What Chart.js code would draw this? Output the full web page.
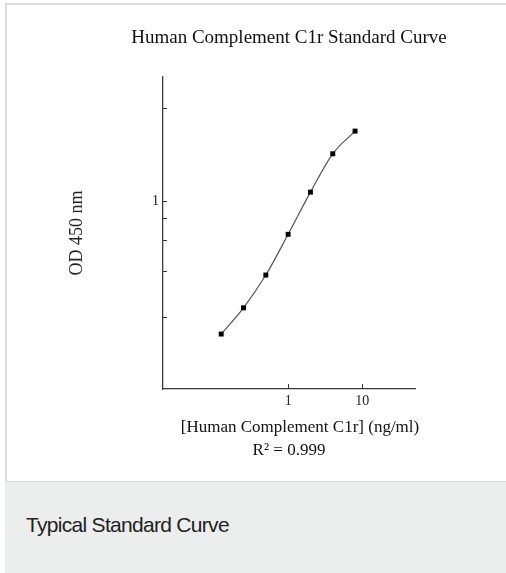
<!DOCTYPE html>
<html>
<head>
<meta charset="utf-8">
<script src="https://cdn.jsdelivr.net/npm/chart.js"></script>
<style>
  html, body { margin: 0; padding: 0; background: #fff; width: 506px; height: 573px; overflow: hidden; }
  #frame { position: absolute; left: 5px; top: 3px; width: 501px; height: 478px; box-sizing: border-box;
           border-left: 2px solid #dcdcdc; border-top: 2px solid #dcdcdc; }
  #chart { position: absolute; left: 0; top: 0; }
  #caption { position: absolute; left: 5px; top: 481px; width: 501px; height: 92px; background: #eceeed;
             border-top: 1px solid #dcdcdc; box-sizing: border-box;
             font-family: "Liberation Sans", Arial, sans-serif; font-size: 21px; letter-spacing: -0.7px;
             color: #222; padding-left: 21px; line-height: 86px; }
</style>
</head>
<body>
<div id="frame"></div>
<canvas id="chart" width="506" height="481"></canvas>
<div id="caption">Typical Standard Curve</div>
<script>
// ---- data ----
const concentrations = [0.125, 0.25, 0.5, 1, 2, 4, 8];             // ng/ml
const odValues       = [0.175, 0.247, 0.38, 0.649, 1.13, 1.87, 2.52]; // OD 450 nm
const xTickValues = [1, 10];
const xTickLabels = ['1', '10'];
const yTickValues = [0.22, 0.4, 0.6, 0.8, 1, 3.4];
const yTickLabels = ['', '', '', '', '1', ''];
const chartTitle = 'Human Complement C1r Standard Curve';
const xTitle = '[Human Complement C1r] (ng/ml)';
const fitNote = 'R\u00B2 = 0.999';
const yTitle = 'OD 450 nm';

const serif = '"Liberation Serif", "Times New Roman", serif';

// inward tick marks + chart title + x-axis caption lines
const decorations = {
  id: 'decorations',
  afterDraw(chart) {
    const {ctx, chartArea, scales} = chart;
    ctx.save();
    ctx.strokeStyle = '#333';
    ctx.lineWidth = 1;
    ctx.beginPath();
    yTickValues.forEach(v => {
      const y = Math.round(scales.y.getPixelForValue(v)) + 0.5;
      ctx.moveTo(chartArea.left, y);
      ctx.lineTo(chartArea.left + 4, y);
    });
    xTickValues.forEach(v => {
      const x = Math.round(scales.x.getPixelForValue(v)) + 0.5;
      ctx.moveTo(x, chartArea.bottom);
      ctx.lineTo(x, chartArea.bottom - 5);
    });
    ctx.stroke();

    const cx = (chartArea.left + chartArea.right) / 2;
    ctx.fillStyle = '#111';
    ctx.textAlign = 'center';
    ctx.textBaseline = 'middle';
    ctx.font = '19px ' + serif;
    ctx.fillText(chartTitle, cx, chartArea.top - 39);
    ctx.font = '17px ' + serif;
    ctx.fillText(xTitle, cx + 11, chartArea.bottom + 39);
    ctx.fillText(fitNote, cx, chartArea.bottom + 62);
    ctx.restore();
  }
};

new Chart(document.getElementById('chart'), {
  type: 'scatter',
  data: {
    datasets: [{
      data: concentrations.map((c, i) => ({x: c, y: odValues[i]})),
      showLine: true,
      borderColor: '#555',
      borderWidth: 1.2,
      cubicInterpolationMode: 'monotone',
      pointStyle: 'rect',
      pointRadius: 3.5,
      pointBackgroundColor: '#000',
      pointBorderColor: '#000',
      pointBorderWidth: 0
    }]
  },
  options: {
    responsive: false,
    animation: false,
    events: [],
    layout: { padding: { left: 0, right: 91, top: 77, bottom: 0 } },
    plugins: {
      legend: { display: false },
      tooltip: { enabled: false },
      title: { display: false }
    },
    scales: {
      x: {
        type: 'logarithmic',
        min: 0.0205,
        max: 51.5,
        afterBuildTicks: s => { s.ticks = xTickValues.map(v => ({value: v})); },
        afterFit: s => { s.height = 92; },
        ticks: {
          autoSkip: false, maxRotation: 0, padding: 4, color: '#222',
          font: { family: serif, size: 14 },
          callback: v => { const i = xTickValues.indexOf(v); return i >= 0 ? xTickLabels[i] : ''; }
        },
        grid: { display: true, drawOnChartArea: false, drawTicks: false },
        border: { display: true, color: '#3a3a3a', width: 1.3 }
      },
      y: {
        type: 'logarithmic',
        min: 0.085,
        max: 5.13,
        afterBuildTicks: s => { s.ticks = yTickValues.map(v => ({value: v})); },
        afterFit: s => { s.width = 163; },
        ticks: {
          autoSkip: false, padding: 4, color: '#222',
          font: { family: serif, size: 14 },
          callback: v => { const i = yTickValues.indexOf(v); return i >= 0 ? yTickLabels[i] : ''; }
        },
        grid: { display: true, drawOnChartArea: false, drawTicks: false },
        border: { display: true, color: '#3a3a3a', width: 1.3 },
        title: {
          display: true, text: yTitle, color: '#222',
          font: { family: serif, size: 18, lineHeight: 1.2 },
          padding: { top: 66.2, bottom: 0 }
        }
      }
    }
  },
  plugins: [decorations]
});
</script>
</body>
</html>
